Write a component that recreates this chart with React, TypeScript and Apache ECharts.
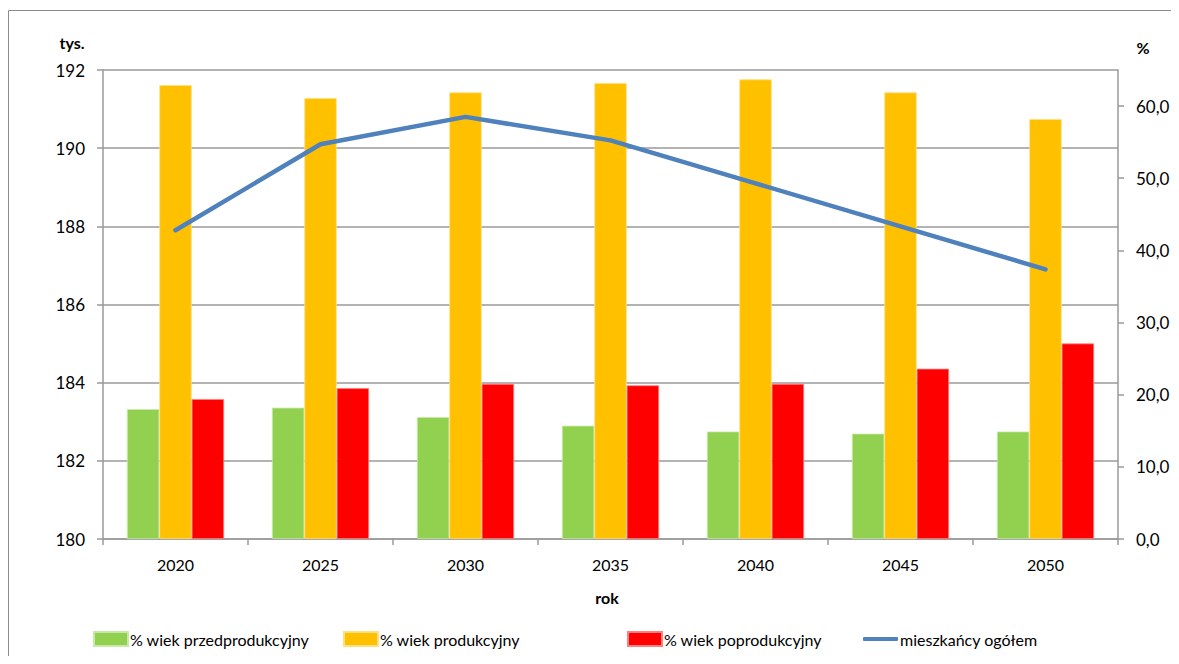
import React, { useEffect, useRef } from "react";
import * as echarts from "echarts";

const years = ["2020", "2025", "2030", "2035", "2040", "2045", "2050"];
const przed = [18.0, 18.2, 16.9, 15.7, 14.9, 14.6, 14.9];
const prod = [62.9, 61.1, 61.9, 63.2, 63.7, 61.9, 58.2];
const poprod = [19.4, 20.9, 21.5, 21.3, 21.5, 23.6, 27.1];
const ogolem = [187.9, 190.1, 190.8, 190.2, 189.1, 188.0, 186.9];
const rightTicks = [0, 10, 20, 30, 40, 50, 60];

const FONT = "Lato, 'Open Sans', sans-serif";
const GRAY = "#9a9a9a";

export default function App() {
  const ref = useRef<HTMLDivElement>(null);
  useEffect(() => {
    if (!ref.current) return;
    const chart = echarts.init(ref.current, undefined, { renderer: "svg" });
    const legendBase = {
      orient: "horizontal",
      itemWidth: 34,
      itemHeight: 14,
      itemGap: 5,
      textStyle: { fontFamily: FONT, fontSize: 16, color: "#000", padding: [0, 0, 0, -3] },
      top: 618,
    };
    chart.setOption({
      animation: false,
      textStyle: { fontFamily: FONT },
      grid: { left: 95, right: 61, top: 62, bottom: 117, containLabel: false },
      graphic: [
        {
          type: "rect",
          shape: { x: 0.5, y: 2.5, width: 1300, height: 800 },
          style: { fill: "none", stroke: "#8c8c8c", lineWidth: 1 },
          silent: true,
        },
        {
          type: "text",
          x: 64,
          y: 34,
          style: { text: "tys.", font: `bold 16px ${FONT}`, fill: "#000", align: "center", verticalAlign: "middle" },
        },
        {
          type: "text",
          x: 1135,
          y: 39,
          style: { text: "%", font: `bold 16px ${FONT}`, fill: "#000", align: "center", verticalAlign: "middle" },
        },
        {
          type: "text",
          x: 599,
          y: 589,
          style: { text: "rok", font: `bold 16px ${FONT}`, fill: "#000", align: "center", verticalAlign: "middle" },
        },
      ],
      legend: [
        { ...legendBase, left: 80, data: [{ name: "% wiek przedprodukcyjny", icon: "rect" }] },
        { ...legendBase, left: 330, data: [{ name: "% wiek produkcyjny", icon: "rect" }] },
        { ...legendBase, left: 614, data: [{ name: "% wiek poprodukcyjny", icon: "rect" }] },
        {
          ...legendBase,
          left: 850,
          itemHeight: 4,
          itemWidth: 35,
          data: [{ name: "mieszkańcy ogółem", icon: "roundRect" }],
        },
      ],
      xAxis: {
        type: "category",
        data: years,
        boundaryGap: true,
        axisLine: { show: true, lineStyle: { color: GRAY, width: 1.5 } },
        axisTick: { show: true, inside: false, length: 6, alignWithLabel: false, lineStyle: { color: GRAY, width: 1.5 } },
        axisLabel: { fontFamily: FONT, fontSize: 16, color: "#000", margin: 17 },
        splitLine: { show: false },
      },
      yAxis: [
        {
          type: "value",
          min: 180,
          max: 192,
          interval: 2,
          position: "left",
          axisLine: { show: true, lineStyle: { color: GRAY, width: 1.5 } },
          axisTick: { show: true, inside: false, length: 6, lineStyle: { color: GRAY, width: 1.5 } },
          axisLabel: { fontFamily: FONT, fontSize: 17, color: "#000", margin: 18 },
          splitLine: { show: true, lineStyle: { color: GRAY, width: 1.5 } },
        },
        {
          type: "value",
          min: 0,
          max: 65,
          interval: 10,
          position: "right",
          axisLine: { show: true, lineStyle: { color: GRAY, width: 1.5 } },
          axisTick: { show: true, inside: false, length: 6, customValues: rightTicks, lineStyle: { color: GRAY, width: 1.5 } },
          axisLabel: {
            fontFamily: FONT,
            fontSize: 17,
            color: "#000",
            margin: 18,
            customValues: rightTicks,
            formatter: (v: number) => (v > 60 ? "" : v.toFixed(1).replace(".", ",")),
          },
          splitLine: { show: false },
        },
      ],
      series: [
        {
          name: "% wiek przedprodukcyjny",
          type: "bar",
          yAxisIndex: 1,
          data: przed,
          barGap: "0%",
          barCategoryGap: "33%",
          itemStyle: { color: "#92D050", borderColor: "#c8e8a8", borderWidth: 0.8 },
        },
        {
          name: "% wiek produkcyjny",
          type: "bar",
          yAxisIndex: 1,
          data: prod,
          barGap: "0%",
          barCategoryGap: "33%",
          itemStyle: { color: "#FFC000", borderColor: "#ffe080", borderWidth: 0.8 },
        },
        {
          name: "% wiek poprodukcyjny",
          type: "bar",
          yAxisIndex: 1,
          data: poprod,
          barGap: "0%",
          barCategoryGap: "33%",
          itemStyle: { color: "#FF0000", borderColor: "#ff8080", borderWidth: 0.8 },
        },
        {
          name: "mieszkańcy ogółem",
          type: "line",
          yAxisIndex: 0,
          data: ogolem,
          symbol: "none",
          smooth: false,
          lineStyle: { color: "#4F81BD", width: 4.5, cap: "round", join: "round" },
          itemStyle: { color: "#4F81BD" },
          z: 5,
        },
      ],
    });
    return () => chart.dispose();
  }, []);
  return <div ref={ref} style={{ width: 1171, height: 648 }} />;
}
